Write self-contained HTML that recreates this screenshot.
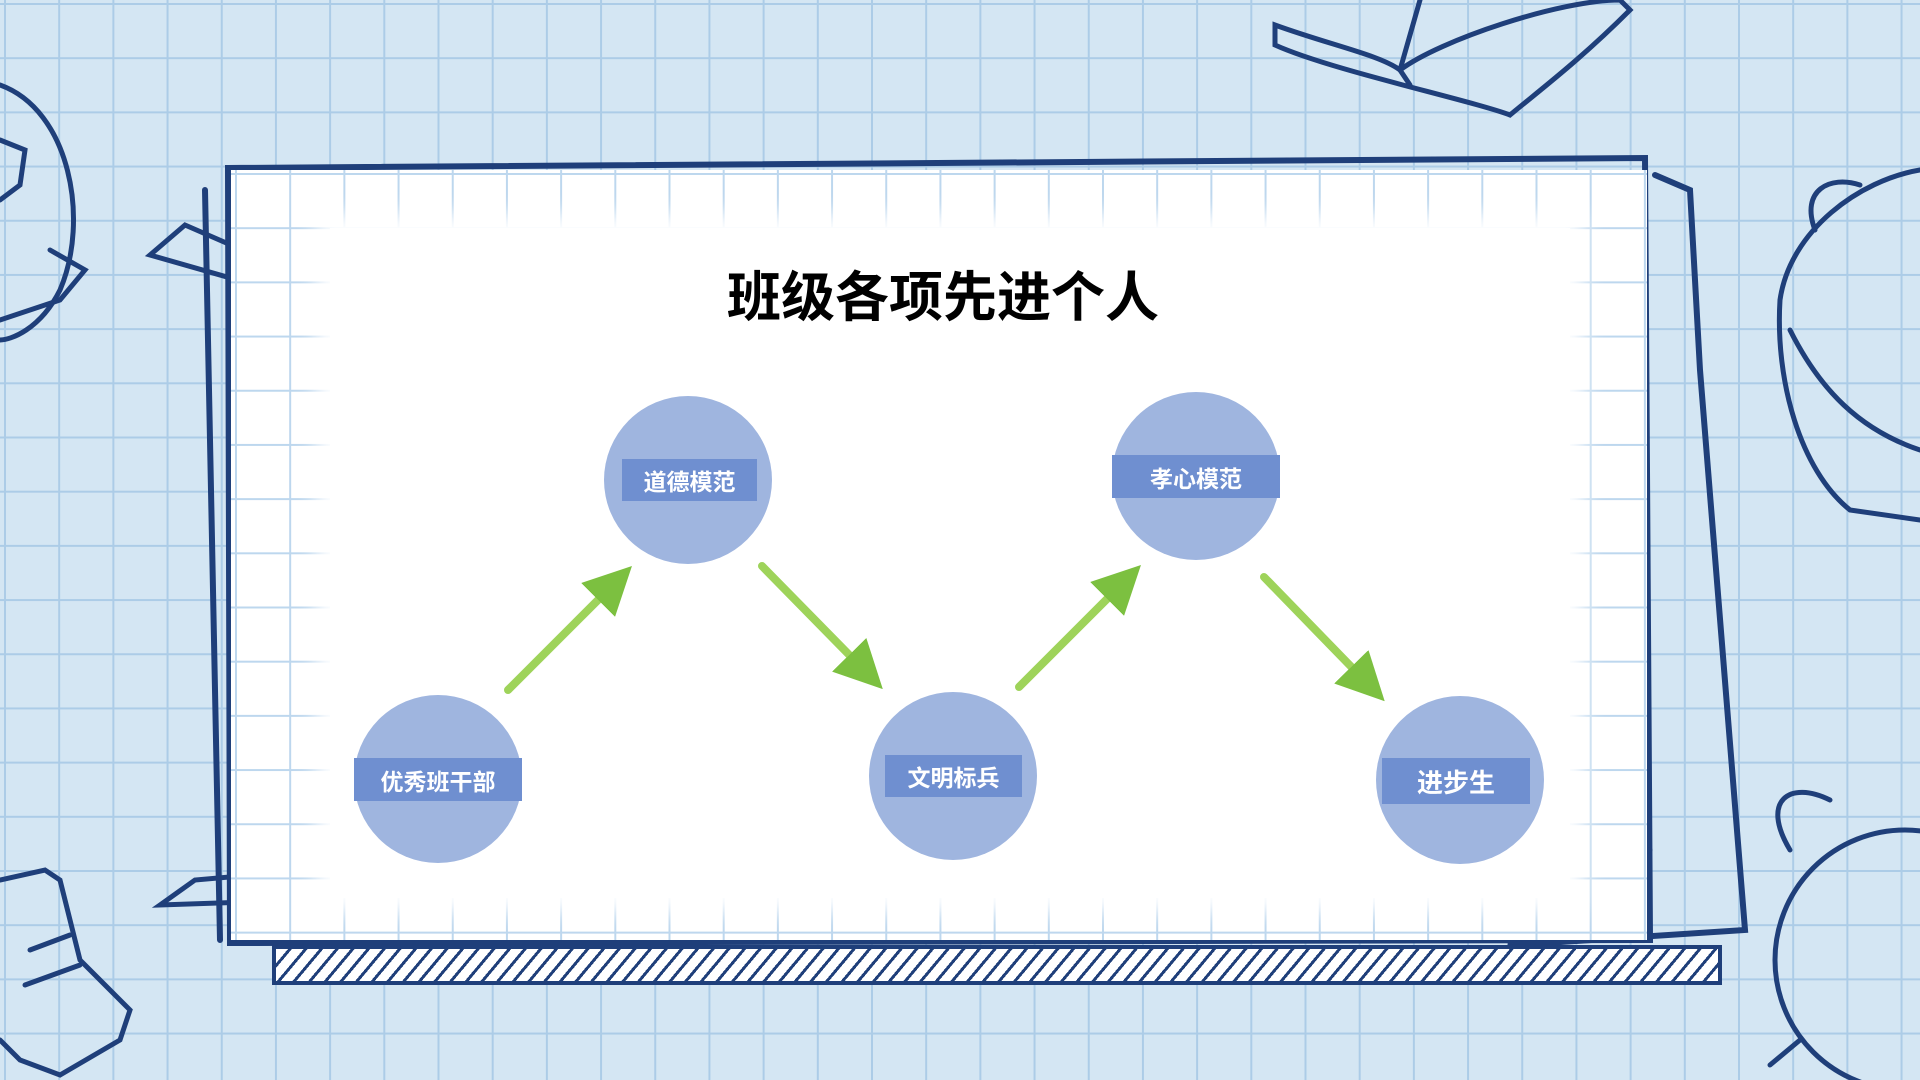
<!DOCTYPE html>
<html><head><meta charset="utf-8"><style>
html,body{margin:0;padding:0}
body{width:1920px;height:1080px;position:relative;overflow:hidden;background-color:#d4e6f3;
background-image:linear-gradient(to right,#acccE7 2px,transparent 2px),linear-gradient(to bottom,#acccE7 2px,transparent 2px);
background-size:54.2px 54.2px;background-position:4px 3px;font-family:"Liberation Sans","Noto Sans CJK SC",sans-serif}
.abs{position:absolute}
.circ{position:absolute;width:168px;height:168px;border-radius:50%;background:#9fb5df}
.lab{position:absolute;background:#6f8fd0;color:#fff;font-weight:bold;font-size:23px;display:flex;align-items:center;justify-content:center}
</style></head><body>
<svg class="abs" style="left:0;top:0" width="1920" height="1080">
<g fill="none" stroke="#1f3f7a" stroke-width="5" stroke-linecap="round">
<!-- globe left -->
<path d="M0 85 C70 110 90 220 60 290 C40 330 10 340 0 340"/>
<path d="M0 140 L25 150 L20 185 L0 200"/>
<path d="M50 250 L85 270 L60 300 L0 320"/>
<!-- book top -->
<path d="M1275 25 C1330 45 1380 55 1400 70 C1440 40 1560 0 1620 0 L1630 10 C1580 60 1540 90 1510 115 C1470 100 1330 70 1275 45 Z"/>
<path d="M1400 70 L1410 85 M1420 0 L1400 70"/>
<!-- backpack right -->
<path d="M1920 170 C1860 180 1790 230 1780 300 C1775 380 1800 470 1850 510 L1920 520"/>
<path d="M1815 230 C1800 190 1830 175 1860 185"/>
<path d="M1790 330 C1820 390 1860 430 1920 450"/>
<!-- clock right bottom -->
<circle cx="1905" cy="960" r="130"/>
<path d="M1790 850 C1760 800 1790 780 1830 800 M1800 1040 L1770 1065"/>
<!-- paper left bottom -->
<path d="M0 880 L45 870 L60 880 L80 960 L130 1010 L120 1040 L60 1075 L20 1060 L0 1040"/>
<path d="M30 950 L70 935 M25 985 L80 965"/>
<!-- paper frame -->
<path d="M228 168 L1645 158 L1650 940 L230 943 Z" stroke-width="6"/>
<path d="M205 190 L220 940" stroke-width="6"/>
<path d="M290 200 L290 330" stroke-width="5"/>
<path d="M1655 175 L1690 190 L1700 370 L1745 930 L1515 945" stroke-width="6"/>
<path d="M1620 190 L1620 345"/>
<path d="M1650 850 L1515 905 L1510 945"/>
<!-- clips -->
<path d="M150 255 L185 225 L300 275 C320 285 310 300 290 295 Z" stroke-width="5"/>
<path d="M160 905 L195 880 L310 870 C330 875 325 895 305 900 Z" stroke-width="5"/>
</g>
</svg>
<!-- paper -->
<div class="abs" style="left:231px;top:170px;width:1416px;height:770px;background-color:#fff;background-image:linear-gradient(to right,#bdd7ee 2px,transparent 2px),linear-gradient(to bottom,#bdd7ee 2px,transparent 2px);background-size:54.2px 54.2px;background-position:4px 3px"></div>
<div class="abs" style="left:330px;top:228px;width:1240px;height:670px;background:#fff;box-shadow:0 0 20px 14px #fff"></div>
<!-- hatch strip -->
<div class="abs" style="left:272px;top:945px;width:1442px;height:32px;border:4px solid #1f3f7a;background:repeating-linear-gradient(-50deg,#fff 0 9px,#1f3f7a 9px 12px)"></div>
<div class="abs" style="left:0;top:298px;width:1886px;text-align:center;font-size:54px;font-weight:bold;color:#000;line-height:1;transform:translateY(-27px)">班级各项先进个人</div>
<div class="circ" style="left:604px;top:396px"></div>
<div class="circ" style="left:1112px;top:392px"></div>
<div class="circ" style="left:354px;top:695px"></div>
<div class="circ" style="left:869px;top:692px"></div>
<div class="circ" style="left:1376px;top:696px"></div>
<div class="lab" style="left:622px;top:459px;width:135px;height:42px">道德模范</div>
<div class="lab" style="left:354px;top:758px;width:168px;height:43px">优秀班干部</div>
<div class="lab" style="left:1112px;top:455px;width:168px;height:43px">孝心模范</div>
<div class="lab" style="left:885px;top:755px;width:137px;height:42px">文明标兵</div>
<div class="lab" style="left:1382px;top:758px;width:148px;height:46px;font-size:26px">进步生</div>
<svg class="abs" style="left:0;top:0" width="1920" height="1080">
<defs><marker id="a" markerWidth="6" markerHeight="6" refX="3" refY="3" orient="auto" markerUnits="strokeWidth"><path d="M0,0 L6,3 L0,6 Z" fill="#7cc040"/></marker></defs>
<g stroke="#9ed35a" stroke-width="8" stroke-linecap="round" marker-end="url(#a)">
<line x1="508" y1="690" x2="615" y2="583"/>
<line x1="762" y1="566" x2="866" y2="672"/>
<line x1="1019" y1="687" x2="1124" y2="582"/>
<line x1="1264" y1="577" x2="1368" y2="684"/>
</g>
</svg>
</body></html>
